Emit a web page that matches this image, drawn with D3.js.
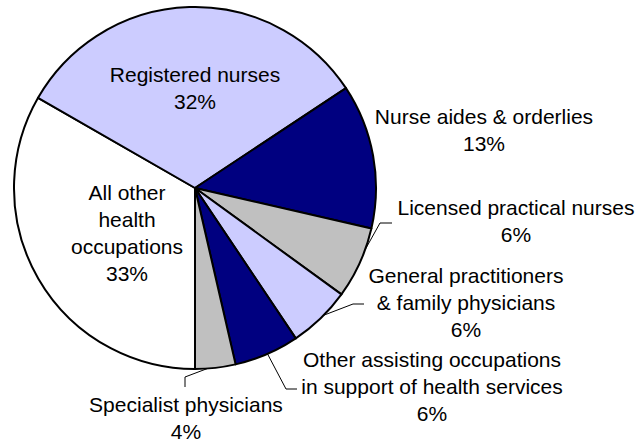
<!DOCTYPE html>
<html>
<head>
<meta charset="utf-8">
<script src="https://cdn.jsdelivr.net/npm/d3@7"></script>
<style>
  html, body { margin: 0; padding: 0; background: #fff; }
  svg { display: block; }
  .lbl { font-family: "Liberation Sans", Arial, sans-serif; font-size: 21px; fill: #000; }
</style>
</head>
<body>
<div id="chart"></div>
<script>
(function() {
  'use strict';

  //---DATA (share of health workforce, %)
  var categories = [
    'All other health occupations',
    'Registered nurses',
    'Nurse aides & orderlies',
    'Licensed practical nurses',
    'General practitioners & family physicians',
    'Other assisting occupations in support of health services',
    'Specialist physicians'
  ];
  var values = [33.3, 32.4, 12.9, 6.4, 5.6, 5.8, 3.6];
  var labelLines = [
    ['All other', 'health', 'occupations'],
    ['Registered nurses'],
    ['Nurse aides & orderlies'],
    ['Licensed practical nurses'],
    ['General practitioners', '& family physicians'],
    ['Other assisting occupations', 'in support of health services'],
    ['Specialist physicians']
  ];
  var colors = ['#ffffff', '#ccccff', '#000080', '#c0c0c0', '#ccccff', '#000080', '#c0c0c0'];

  //---LAYOUT (label centre x, first baseline y, leader elbow + where it touches the slice)
  var layout = [
    { x: 127, y: 200 },
    { x: 195, y: 82 },
    { x: 484, y: 124 },
    { x: 516, y: 215, leader: [[392, 223], [380, 223]], t: 0.3 },
    { x: 466, y: 283, leader: [[364, 304], [353, 304]], t: 0.43 },
    { x: 432, y: 367, leader: [[297, 389], [286, 389]], t: 0.49 },
    { x: 186, y: 412, leader: [[185, 387], [185, 377]], t: 0.7 }
  ];

  //-----SIZES
  var W = 637, H = 440;
  var cx = 195, cy = 188, R = 181;
  var lineH = 27;

  var svg = d3.select('#chart').append('svg')
    .attr('width', W)
    .attr('height', H);

  svg.append('rect')
    .attr('width', W)
    .attr('height', H)
    .attr('fill', '#fff');

  var g = svg.append('g')
    .attr('transform', 'translate(' + cx + ',' + cy + ')');

  var total = d3.sum(values);

  var pie = d3.pie()
    .sort(null)
    .startAngle(Math.PI)
    .endAngle(3 * Math.PI);

  var arc = d3.arc()
    .innerRadius(0)
    .outerRadius(R);

  var arcs = pie(values);

  //---SLICES
  g.selectAll('path.slice')
    .data(arcs)
    .enter()
    .append('path')
    .attr('class', 'slice')
    .attr('d', arc)
    .attr('fill', function(d, i) { return colors[i]; })
    .attr('stroke', '#000')
    .attr('stroke-width', 2)
    .attr('stroke-linejoin', 'round');

  //---LEADER LINES
  arcs.forEach(function(d, i) {
    var L = layout[i];
    if (!L.leader) return;
    var a = d.startAngle + (d.endAngle - d.startAngle) * L.t;
    var pts = L.leader.map(function(p) { return [p[0] - cx, p[1] - cy]; });
    pts.push([Math.sin(a) * R, -Math.cos(a) * R]);
    g.append('path')
      .attr('d', d3.line()(pts))
      .attr('fill', 'none')
      .attr('stroke', '#000')
      .attr('stroke-width', 1);
  });

  //---LABELS
  arcs.forEach(function(d, i) {
    var L = layout[i];
    var lines = labelLines[i].concat([Math.round(values[i] / total * 100) + '%']);
    var txt = svg.append('text')
      .attr('class', 'lbl')
      .attr('text-anchor', 'middle');
    lines.forEach(function(s, k) {
      txt.append('tspan')
        .attr('x', L.x)
        .attr('y', L.y + k * lineH)
        .text(s);
    });
  });

})();
</script>
</body>
</html>
